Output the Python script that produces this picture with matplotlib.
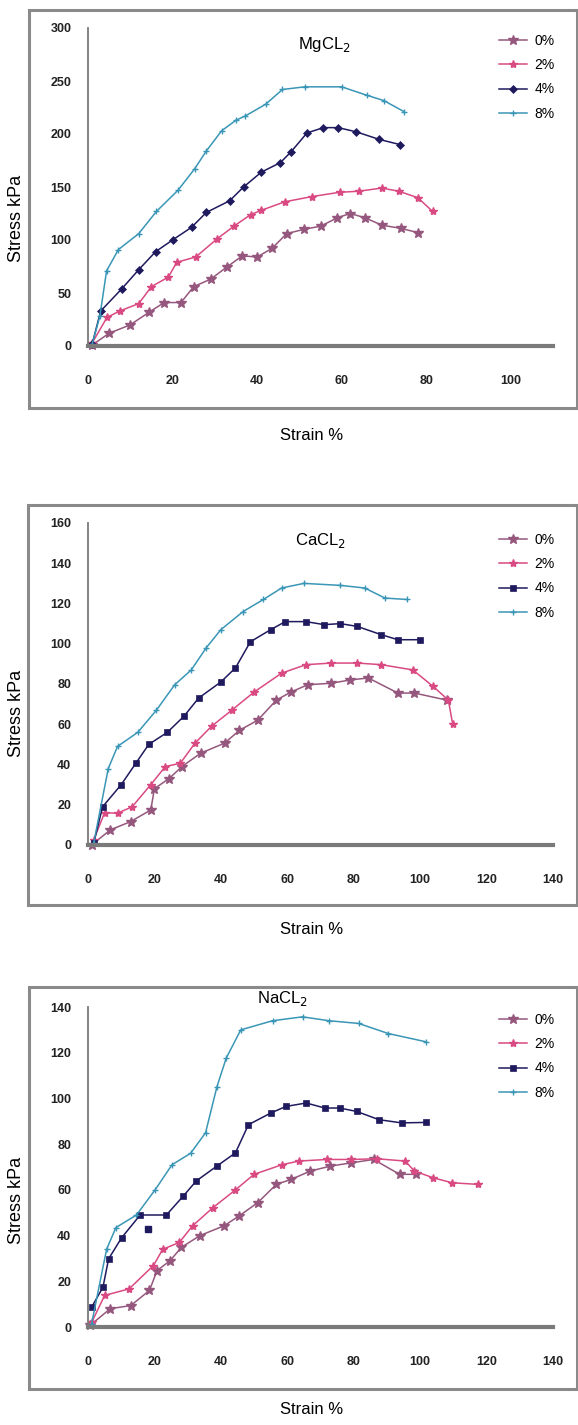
import matplotlib
matplotlib.use("Agg")
import matplotlib.pyplot as plt
from matplotlib.patches import Rectangle

plt.rcParams['font.family'] = ['Liberation Sans', 'DejaVu Sans']

labels = ['0%', '2%', '4%', '8%']
colors = ['#95577d', '#d94a83', '#1f1a5e', '#3a96b6']
markers = ['*', '*', 'D', '+']

# MgCL2
mg0_x = [1, 5, 10, 14.5, 18, 22, 25, 29, 33, 36.5, 40, 43.5, 47, 51, 55, 59, 62, 65.5, 69.5, 74, 78]
mg0_y = [1, 12, 20, 32, 41, 41, 56, 63, 75, 85, 84, 92, 106, 110, 113, 121, 125, 121, 114, 111, 107]
mg2_x = [1, 4.5, 7.5, 12, 15, 19, 21, 25.5, 30.5, 34.5, 38.5, 41, 46.5, 53, 59.5, 64, 69.5, 73.5, 78, 81.5]
mg2_y = [3, 27, 33, 40, 56, 65, 79, 84, 101, 113, 124, 128, 136, 141, 145, 146, 149, 146, 140, 127]
mg4_x = [1, 3, 8, 12, 16, 20, 24.5, 28, 33.5, 36.8, 41, 45.5, 48, 51.8, 55.7, 59.2, 63.5, 68.8, 73.8]
mg4_y = [2, 33, 54, 72, 89, 100, 112, 126, 137, 150, 164, 173, 183, 201, 206, 206, 202, 195, 190]
mg8_x = [1, 2.8, 4.4, 7.2, 12, 16.2, 21.3, 25.2, 28, 31.6, 35, 37.2, 42, 46, 51.3, 60, 66, 70, 74.8]
mg8_y = [2, 28, 71, 91, 106, 127, 147, 167, 184, 203, 213, 217, 228, 242, 244.5, 244.5, 236.5, 231.5, 221]

# CaCL2
ca0_x = [1.1, 6.7, 12.8, 18.9, 20, 24.4, 28.3, 33.9, 41.1, 45.6, 51.1, 56.7, 61.1, 66.1, 73.3, 78.9, 84.4, 93.3, 98.3, 108]
ca0_y = [0, 7.5, 11.6, 17.4, 28, 33, 39, 45.6, 50.6, 57, 62, 72, 76, 79.6, 80.4, 82, 83, 75.5, 75.5, 72]
ca2_x = [1.7, 5, 8.9, 13.3, 18.9, 23.3, 27.8, 32.2, 37.2, 43.3, 50, 58.3, 65.6, 73.3, 81.1, 88.3, 97.8, 103.9, 108.5, 109.8]
ca2_y = [2.5, 16, 15.8, 19, 30, 39, 40.6, 50.6, 59, 67, 76, 85.4, 89.6, 90.4, 90.4, 89.6, 87, 78.8, 72, 60]
ca4_x = [1.7, 4.4, 10, 14.4, 18.3, 23.9, 28.9, 33.3, 40, 44.4, 48.9, 55, 59.4, 65.6, 71.1, 76, 81.1, 88.3, 93.3, 100]
ca4_y = [0.8, 19, 30, 40.6, 50, 56, 64, 73, 81, 88, 101, 107, 111, 111, 109.5, 110, 108.6, 104.5, 102, 102]
ca8_x = [1.7, 6.1, 8.9, 15, 20.6, 26.1, 31.1, 35.6, 40, 46.7, 52.8, 58.3, 65, 76, 83.3, 89.4, 96]
ca8_y = [0.8, 38, 49, 56, 67, 79.6, 87, 98, 107, 116, 122, 127.7, 130, 129, 127.7, 122.7, 122]

# NaCL2
na0_x = [0.6, 6.7, 12.9, 18.5, 20.8, 24.7, 28.1, 33.7, 41, 45.5, 51.1, 56.7, 61.2, 66.9, 73, 79.2, 86, 93.8, 98.9]
na0_y = [0.7, 8, 9.4, 16, 24.7, 29, 34.8, 40, 44.3, 48.6, 54.4, 62.4, 64.6, 68.2, 70.4, 71.8, 73.3, 66.8, 66.8]
na2_x = [1.1, 5, 12.4, 19.7, 22.5, 27.5, 31.5, 37.6, 44.4, 50, 58.4, 63.5, 71.9, 79.2, 87, 95.5, 98.3, 103.9, 109.6, 117.4]
na2_y = [2, 13.8, 16.7, 26.9, 34, 37, 44.3, 52.2, 60, 66.8, 71, 72.6, 73.3, 73.3, 73.6, 72.6, 68.2, 65.3, 63.1, 62.4]
na4_x = [1.1, 4.5, 6.2, 10.1, 15.7, 23.6, 28.7, 32.6, 38.8, 44.4, 48.3, 55, 59.6, 65.7, 71.3, 75.8, 80.9, 87.6, 94.4, 101.7]
na4_y = [8.7, 17.4, 29.8, 39, 49, 49, 57.3, 63.9, 70.4, 76.2, 88.5, 93.6, 96.5, 98, 95.8, 95.8, 94.3, 90.7, 89.3, 89.5]
na4_extra_x = [18]
na4_extra_y = [43]
na8_x = [1.1, 5.6, 8.4, 14.6, 20.2, 25.3, 30.9, 35.4, 38.8, 41.6, 46, 55.6, 64.6, 72.5, 81.5, 90.4, 101.7]
na8_y = [1.5, 34, 43.5, 49, 60, 71, 76, 85, 105, 117.6, 130, 134, 135.7, 134, 132.8, 128.4, 124.8]

W, H = 578, 1425
fig = plt.figure(figsize=(W / 100, H / 100), dpi=100)


def px(x0, y0, x1, y1):
    # pixel box (top-left origin) -> figure fraction rect
    return [x0 / W, 1 - y1 / H, (x1 - x0) / W, (y1 - y0) / H]


panels = [
    dict(title='MgCL$_2$', series=[(mg0_x, mg0_y), (mg2_x, mg2_y), (mg4_x, mg4_y), (mg8_x, mg8_y)],
         ax=(88, 28, 553, 346), box=(29, 10, 577, 408), xlim=110, xticks=range(0, 101, 20),
         ylim=300, yticks=range(0, 301, 50), title_xy=(324, 45), strain_y=436,
         stress_y=218, leg_y=28, m4='D'),
    dict(title='CaCL$_2$', series=[(ca0_x, ca0_y), (ca2_x, ca2_y), (ca4_x, ca4_y), (ca8_x, ca8_y)],
         ax=(88, 523, 553, 845), box=(28, 505, 577, 905), xlim=140, xticks=range(0, 141, 20),
         ylim=160, yticks=range(0, 161, 20), title_xy=(320, 541), strain_y=930,
         stress_y=713, leg_y=527, m4='s'),
    dict(title='NaCL$_2$', series=[(na0_x, na0_y), (na2_x, na2_y), (na4_x, na4_y), (na8_x, na8_y)],
         ax=(88, 1007, 553, 1327), box=(29, 987, 577, 1389), xlim=140, xticks=range(0, 141, 20),
         ylim=140, yticks=range(0, 141, 20), title_xy=(282, 999), strain_y=1410,
         stress_y=1200, leg_y=1007, m4='s'),
]

for p in panels:
    bx0, by0, bx1, by1 = p['box']
    fig.patches.append(Rectangle((bx0 / W, 1 - by1 / H), (bx1 - bx0) / W, (by1 - by0) / H,
                                 transform=fig.transFigure, fill=False, edgecolor='#8a8a8a',
                                 linewidth=2.2, zorder=0))
    ax = fig.add_axes(px(*p['ax']))
    for i, (xs, ys) in enumerate(p['series']):
        mk = p['m4'] if i == 2 else markers[i]
        ms = {0: 7, 1: 6, 2: 4.5, 3: 5}[i]
        ax.plot(xs, ys, color=colors[i], marker=mk, markersize=ms, linewidth=1.1,
                markeredgewidth=1.0 if i in (0, 1, 3) else 0.5, label=labels[i], clip_on=False)
    if p['title'].startswith('Na'):
        ax.plot(na4_extra_x, na4_extra_y, linestyle='none', color=colors[2], marker='s',
                markersize=4.5)
    ax.set_xlim(0, p['xlim'])
    ax.set_ylim(0, p['ylim'])
    ax.set_xticks(list(p['xticks']))
    ax.set_yticks(list(p['yticks']))
    ax.tick_params(length=0, labelsize=9, colors='#222222')
    ax.tick_params(axis='x', pad=21)
    ax.tick_params(axis='y', pad=12)
    for lab in ax.get_xticklabels() + ax.get_yticklabels():
        lab.set_fontweight('bold')
    for s in ('top', 'right'):
        ax.spines[s].set_visible(False)
    ax.spines['left'].set_color('#7a7a7a')
    ax.spines['left'].set_linewidth(1.3)
    ax.spines['bottom'].set_color('#7a7a7a')
    ax.spines['bottom'].set_linewidth(3)
    ax.patch.set_alpha(0)

    tx, ty = p['title_xy']
    fig.text(tx / W, 1 - ty / H, p['title'], ha='center', va='center', fontsize=12)
    fig.text(312 / W, 1 - p['strain_y'] / H, 'Strain %', ha='center', va='center', fontsize=12)
    fig.text(17 / W, 1 - p['stress_y'] / H, 'Stress kPa', ha='center', va='center',
             fontsize=13, rotation=90)
    ax.legend(loc='upper right', bbox_to_anchor=(560 / W, 1 - p['leg_y'] / H),
              bbox_transform=fig.transFigure, frameon=False, fontsize=10,
              handlelength=2.0, labelspacing=0.75, handletextpad=0.5, borderaxespad=0)

fig.savefig('out.png', dpi=100, facecolor='white')
